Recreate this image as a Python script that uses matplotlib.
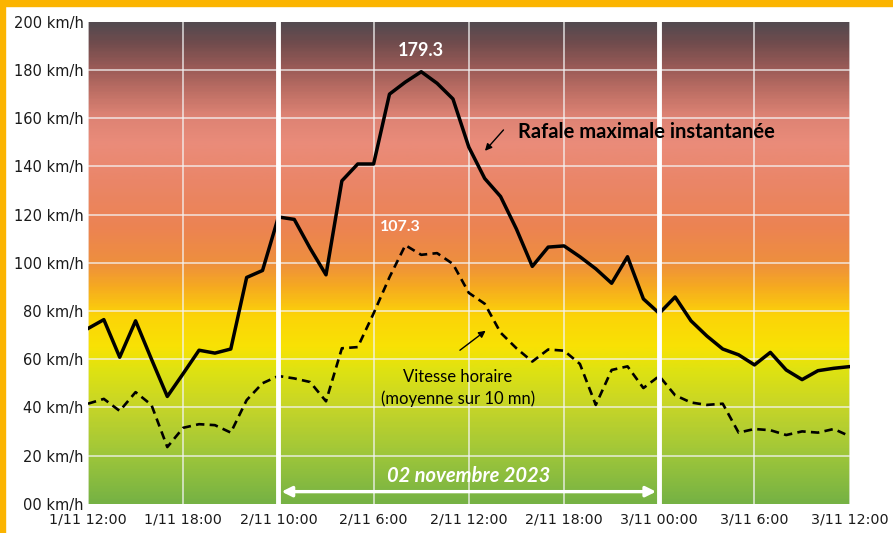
import numpy as np
import matplotlib.pyplot as plt
from matplotlib.colors import LinearSegmentedColormap
from matplotlib.patches import Rectangle

# hours since 1/11 12:00, one value per hour
hours = list(range(49))
rafale = [72.7, 76.4, 60.8, 75.9, 60.0, 44.5, 54.0, 63.7, 62.5, 64.2, 93.9, 96.8,
          119.0, 118.0, 106.0, 95.0, 134.0, 141.0, 141.0, 170.0, 175.0, 179.3, 174.5, 168.0,
          148.0, 135.0, 127.5, 114.0, 98.5, 106.5, 107.0, 102.5, 97.5, 91.5, 102.5, 85.0,
          79.0, 85.8, 75.9, 69.6, 64.2, 61.8, 57.6, 62.8, 55.5, 51.5, 55.2, 56.2, 56.9]
vitesse = [41.5, 43.5, 38.5, 46.3, 41.0, 23.5, 31.5, 33.0, 32.6, 29.5, 43.0, 50.0,
           53.0, 52.0, 50.5, 42.5, 64.5, 65.0, 79.0, 94.0, 107.3, 103.3, 104.0, 99.5,
           87.5, 83.0, 71.0, 64.5, 59.0, 64.0, 63.5, 58.0, 41.0, 55.5, 57.0, 48.0,
           53.0, 45.0, 42.0, 41.0, 41.5, 29.5, 31.0, 30.5, 28.5, 30.0, 29.5, 31.0, 28.0]

xticks = [0, 6, 12, 18, 24, 30, 36, 42, 48]
xlabels = ["1/11 12:00", "1/11 18:00", "2/11 10:00", "2/11 6:00", "2/11 12:00",
           "2/11 18:00", "3/11 00:00", "3/11 6:00", "3/11 12:00"]
yticks = [0, 20, 40, 60, 80, 100, 120, 140, 160, 180, 200]
ylabels = ["00 km/h"] + [f"{v} km/h" for v in yticks[1:]]

# background colour by speed (value, rgb)
bg_stops = [
    (0, (118, 178, 68)), (20, (158, 198, 58)), (40, (198, 213, 40)),
    (55, (222, 226, 18)), (65, (248, 226, 4)), (78, (252, 212, 8)),
    (90, (246, 170, 32)), (100, (238, 143, 62)), (115, (236, 131, 82)),
    (135, (234, 134, 105)), (150, (234, 140, 122)), (162, (220, 130, 115)),
    (172, (188, 110, 100)), (182, (152, 90, 86)), (192, (112, 76, 77)),
    (200, (84, 74, 80)),
]
cmap = LinearSegmentedColormap.from_list(
    "wind", [(v / 200, tuple(c / 255 for c in rgb)) for v, rgb in bg_stops])

fig = plt.figure(figsize=(8.93, 5.33), dpi=100)
ax = fig.add_axes([0.0985, 0.055, 0.853, 0.904])

grad = np.linspace(0, 1, 400).reshape(-1, 1)
ax.imshow(grad, cmap=cmap, origin="lower", aspect="auto",
          extent=[0, 48, 0, 200], zorder=0)

for y in yticks[1:-1]:
    ax.axhline(y, color="#f4f4f4", lw=1.1, alpha=0.85, zorder=1)
for x in xticks:
    if x in (12, 36):
        continue
    ax.axvline(x, color="#f4f4f4", lw=1.1, alpha=0.85, zorder=1)

ax.plot(hours, rafale, color="black", lw=2.5, zorder=3)
ax.plot(hours, vitesse, color="black", lw=1.9, ls=(0, (3.2, 2.0)), zorder=3)

# day separators
for x in (12, 36):
    ax.axvline(x, color="white", lw=3.5, zorder=4)

ax.set_xlim(0, 48)
ax.set_ylim(0, 200)
ax.set_xticks(xticks)
ax.set_xticklabels(xlabels, fontsize=10.3, color="#1a1a1a")
ax.set_yticks(yticks)
ax.set_yticklabels(ylabels, fontsize=10.5, color="#1a1a1a")
ax.tick_params(axis="x", length=0, pad=6)
ax.tick_params(axis="y", length=0, pad=3)
for s in ax.spines.values():
    s.set_visible(False)

ann_font = ["Lato", "DejaVu Sans"]
imax = rafale.index(max(rafale))
ax.text(hours[imax], 188, "179.3", color="white", fontsize=13, fontweight="bold",
        ha="center", va="center", family=ann_font, zorder=5)
vmax = vitesse.index(max(vitesse))
ax.text(hours[vmax] - 0.3, 115, "107.3", color="white", fontsize=11.5, fontweight="bold",
        ha="center", va="center", family=ann_font, zorder=5)

ax.text(27.1, 154.3, "Rafale maximale instantanée", fontsize=14.5, fontweight="bold",
        ha="left", va="center", family=ann_font, zorder=5)
ax.annotate("", xy=(24.9, 145.6), xytext=(26.3, 156),
            arrowprops=dict(arrowstyle="-|>", color="black", lw=1, mutation_scale=10), zorder=5)

ax.text(23.3, 48, "Vitesse horaire\n(moyenne sur 10 mn)", fontsize=12,
        ha="center", va="center", family=ann_font, linespacing=1.4, zorder=5)
ax.annotate("", xy=(25.2, 72.5), xytext=(23.3, 63),
            arrowprops=dict(arrowstyle="-|>", color="black", lw=1, mutation_scale=10), zorder=5)

ax.annotate("", xy=(12.2, 5), xytext=(35.8, 5),
            arrowprops=dict(arrowstyle="<|-|>", color="white", lw=2.4,
                            mutation_scale=15, shrinkA=0, shrinkB=0), zorder=5)
ax.text(24, 11.5, "02 novembre 2023", color="white", fontsize=14.5, fontstyle="italic",
        fontweight="bold", ha="center", va="center", family=ann_font, zorder=5)

# orange frame at top and left
fig.patches.append(Rectangle((0, 1 - 6 / 533), 1, 6 / 533, transform=fig.transFigure,
                             color="#fbb400", zorder=10))
fig.patches.append(Rectangle((0, 0), 5 / 893, 1, transform=fig.transFigure,
                             color="#fbb400", zorder=10))

fig.savefig("out.png", dpi=100)
